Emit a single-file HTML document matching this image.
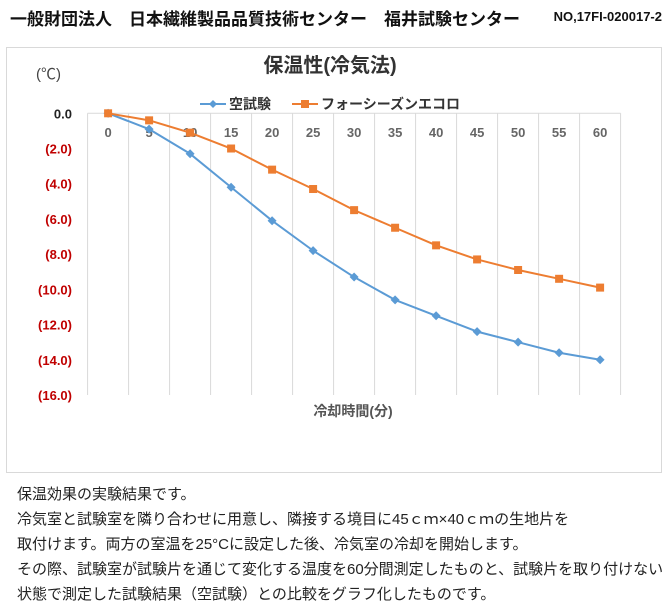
<!DOCTYPE html>
<html><head><meta charset="utf-8"><style>
body{margin:0;width:668px;height:614px;background:#fff;overflow:hidden;font-family:"Liberation Sans","Noto Sans CJK JP",sans-serif;}
.hdr{position:absolute;top:5px;left:10px;font-size:17px;font-weight:bold;color:#111;white-space:nowrap}
.no{position:absolute;top:9px;right:6px;font-size:13px;font-weight:bold;color:#111}
.desc{position:absolute;left:17px;top:482px;font-size:15px;line-height:25px;color:#222;white-space:nowrap}
</style></head><body>
<div class="hdr">一般財団法人　日本繊維製品品質技術センター　福井試験センター</div>
<div class="no">NO,17FI-020017-2</div>
<svg width="668" height="614" style="position:absolute;left:0;top:0" id="chart">
<rect x="6.5" y="47.5" width="655" height="425" fill="none" stroke="#d9d9d9"/>
<text x="330" y="72" text-anchor="middle" font-size="20" font-weight="bold" fill="#333">保温性(冷気法)</text>
<text x="36" y="79" font-size="15" fill="#444">(℃)</text>
<g id="legend">
<line x1="200" y1="104" x2="226" y2="104" stroke="#5b9bd5" stroke-width="2"/>
<path d="M213 100 L217 104 L213 108 L209 104Z" fill="#5b9bd5"/>
<text x="229" y="109" font-size="14" font-weight="bold" fill="#333">空試験</text>
<line x1="292" y1="104" x2="318" y2="104" stroke="#ed7d31" stroke-width="2"/>
<rect x="301" y="100" width="8" height="8" fill="#ed7d31"/>
<text x="321" y="109" font-size="14" font-weight="bold" fill="#333">フォーシーズンエコロ</text>
</g>
<g id="grid"></g><g id="axes"></g><g id="series"></g>
<text x="353" y="416" text-anchor="middle" font-size="14" font-weight="bold" fill="#555">冷却時間(分)</text>
</svg>
<div class="desc">保温効果の実験結果です。<br>冷気室と試験室を隣り合わせに用意し、隣接する境目に45ｃｍ×40ｃｍの生地片を<br>取付けます。両方の室温を25°Cに設定した後、冷気室の冷却を開始します。<br>その際、試験室が試験片を通じて変化する温度を60分間測定したものと、試験片を取り付けない<br>状態で測定した試験結果（空試験）との比較をグラフ化したものです。</div>
<script>
const categories=[0,5,10,15,20,25,30,35,40,45,50,55,60];
const blankValues=[0,-0.9,-2.3,-4.2,-6.1,-7.8,-9.3,-10.6,-11.5,-12.4,-13.0,-13.6,-14.0];
const productValues=[0,-0.4,-1.1,-2.0,-3.2,-4.3,-5.5,-6.5,-7.5,-8.3,-8.9,-9.4,-9.9];
const yTicks=[0,-2,-4,-6,-8,-10,-12,-14,-16];
const yTickLabels=["0.0","(2.0)","(4.0)","(6.0)","(8.0)","(10.0)","(12.0)","(14.0)","(16.0)"];
const NS="http://www.w3.org/2000/svg";
const L=87.6,R=620.6,T=113.3,B=395;
const band=(R-L)/categories.length;
const xs=i=>L+band*(i+0.5);
const ys=v=>T+(0-v)/16*(B-T);
function mk(t,a,p){const e=document.createElementNS(NS,t);for(const k in a)e.setAttribute(k,a[k]);p.appendChild(e);return e;}
const grid=document.getElementById('grid'),axes=document.getElementById('axes'),ser=document.getElementById('series');
for(let i=0;i<=categories.length;i++){
 const x=L+band*i;
 const g=mk('line',{x1:x,y1:T,x2:x,y2:B,stroke:'#d9d9d9','stroke-width':1},grid);
 
 
}
const ax=mk('line',{x1:L,y1:T,x2:R,y2:T,stroke:'#d9d9d9'},axes);


categories.forEach((c,i)=>{
 const t=mk('text',{x:xs(i),y:137,'text-anchor':'middle','font-size':13,'font-weight':'bold',fill:'#666'},axes);
 t.textContent=c;
 
 
});
yTicks.forEach((v,i)=>{
 const t=mk('text',{x:72,y:ys(v)+5,'text-anchor':'end','font-size':13,'font-weight':'bold',fill:i==0?'#222':'#c00000'},axes);
 t.textContent=yTickLabels[i];
 
 
});
function series(vals,color,shape,name){
 const g=mk('g',{},ser);
 
 
 mk('polyline',{points:vals.map((v,i)=>xs(i)+','+ys(v)).join(' '),fill:'none',stroke:color,'stroke-width':2,'stroke-linejoin':'round'},g);
 vals.forEach((v,i)=>{
  const x=xs(i),y=ys(v);
  let m;
  if(shape=='d')m=mk('path',{d:`M${x} ${y-4.5}L${x+4.5} ${y}L${x} ${y+4.5}L${x-4.5} ${y}Z`,fill:color},g);
  else m=mk('rect',{x:x-4,y:y-4,width:8,height:8,fill:color},g);
  
  
 });
}
series(blankValues,'#5b9bd5','d','series-blank');
series(productValues,'#ed7d31','s','series-product');
</script>
</body></html>
